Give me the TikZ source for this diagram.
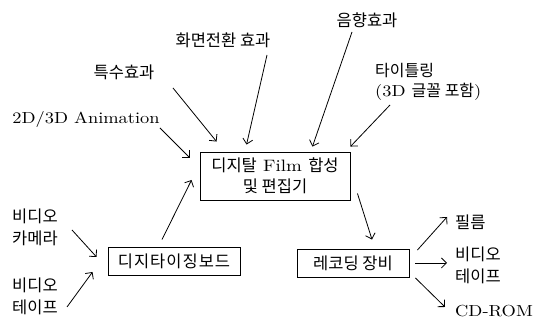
\documentclass[tikz,border=0pt]{standalone}
\usepackage{fontspec}
\setmainfont{lmroman10-regular.otf}[FakeStretch=1.15]
\newfontfamily\kr{Noto Sans CJK KR}
\newfontfamily\krw{Noto Sans CJK KR}[LetterSpace=6]
\usetikzlibrary{arrows.meta}
\begin{document}
\begin{tikzpicture}[x=1pt,y=1pt,
  lbl/.style={inner sep=0pt, font=\fontsize{16}{22}\selectfont, align=left},
  krl/.style={lbl, font=\fontsize{16.5}{22}\selectfont\kr},
  box/.style={draw, line width=0.9pt, inner sep=0pt, align=center, font=\fontsize{16.5}{21}\selectfont},
  arr/.style={line width=0.8pt, -{Straight Barb[length=5pt,width=10pt]}}]
\useasboundingbox (0,0) rectangle (544,320);
% boxes
\node[box, minimum width=150pt, minimum height=48pt] (main) at (275,144) {{\kr 디지탈} Film {\kr 합성}\\{\kr 및 편집기}};
\node[box, minimum width=132pt, minimum height=28pt, font=\fontsize{16.5}{21}\selectfont\krw] (digit) at (174,59) {디지타이징보드};
\node[box, minimum width=112pt, minimum height=28pt, font=\fontsize{16.5}{21}\selectfont\kr] (rec) at (353,57) {레코딩 장비};
% labels
\node[lbl] (anim) at (86,200) {2D/3D Animation};
\node[krl] (tuk) at (124,248) {특수효과};
\node[krl] (hwa) at (223,280) {화면전환 효과};
\node[krl] (eum) at (367,300) {음향효과};
\node[lbl, anchor=west, font=\fontsize{16}{20}\selectfont] (title) at (375,238) {{\kr 타이틀링}\\(3D {\kr 글꼴 포함})};
\node[krl, anchor=west] (cam) at (12,93) {비디오\\카메라};
\node[krl, anchor=west] (tape) at (12,24) {비디오\\테이프};
\node[krl, anchor=west] (film) at (455,98) {필름};
\node[krl, anchor=west] (vtape) at (455,55) {비디오\\테이프};
\node[lbl, anchor=west] (cd) at (455,9) {CD-ROM};
% arrows
\draw[arr] ([shift={(74,-8)}]anim.center) -- ([shift={(-10,-6)}]main.north west);
\draw[arr] ([shift={(49,-16)}]tuk.center) -- ([shift={(17,10)}]main.north west);
\draw[arr] ([shift={(44,-15)}]hwa.center) -- ([shift={(47,7)}]main.north west);
\draw[arr] ([shift={(-15,-12)}]eum.center) -- ([shift={(-38,5)}]main.north east);
\draw[arr] ([shift={(15,-23)}]title.west) -- ([shift={(0,5)}]main.north east);
\draw[arr] ([shift={(60,-3)}]cam.west) -- ([shift={(-11,4)}]digit.west);
\draw[arr] ([shift={(55,-11)}]tape.west) -- ([shift={(-15,-11)}]digit.west);
\draw[arr] ([shift={(-12,7)}]digit.north) -- ([shift={(-8,-4)}]main.west);
\draw[arr] ([shift={(7,7)}]main.south east) -- ([shift={(19,9)}]rec.north);
\draw[arr] ([shift={(8,13)}]rec.east) -- ([shift={(-8,5)}]film.west);
\draw[arr] ([shift={(6,0)}]rec.east) -- ([shift={(-8,2)}]vtape.west);
\draw[arr] ([shift={(6,-15)}]rec.east) -- ([shift={(-10,4)}]cd.west);
\end{tikzpicture}
\end{document}
